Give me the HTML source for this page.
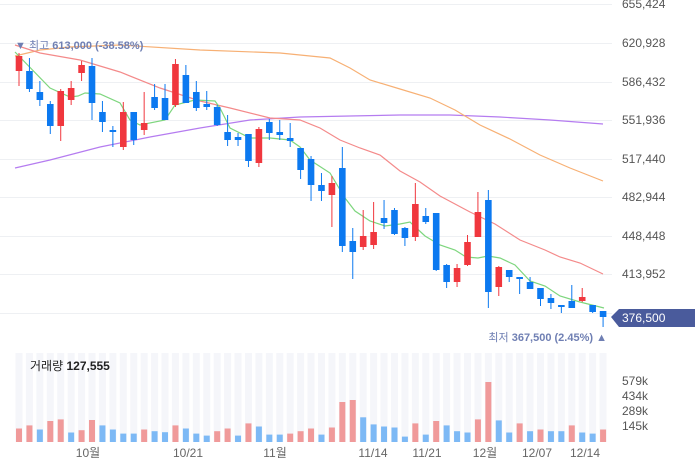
<!DOCTYPE html>
<html><head><meta charset="utf-8"><style>
html,body{margin:0;padding:0;background:#fff;}
svg{display:block;font-family:"Liberation Sans","Noto Sans CJK KR",sans-serif;}
</style></head><body>
<svg id="s" width="699" height="469" viewBox="0 0 699 469" xmlns="http://www.w3.org/2000/svg">
<g id="grid" stroke="#eef0f3" stroke-width="1"></g>
<g id="vbg"></g>
<g id="vol"></g>
<g id="ma" fill="none" stroke-width="1.2"></g>
<g id="cd"></g>
<g font-size="12" fill="#555">
<text x="622" y="8">655,424</text>
<text x="622" y="47">620,928</text>
<text x="622" y="86">586,432</text>
<text x="622" y="124">551,936</text>
<text x="622" y="163">517,440</text>
<text x="622" y="201">482,944</text>
<text x="622" y="240">448,448</text>
<text x="622" y="278">413,952</text>
</g>
<path d="M611 317 L619 309 H695 V327 H619 Z" fill="#4a5b9c"/>
<text x="622" y="322" font-size="12" fill="#fff">376,500</text>
<text x="15" y="49" font-size="11" fill="#6f7fb3">▼ 최고 <tspan font-weight="bold">613,000 (-38.58%)</tspan></text>
<text x="607" y="341" font-size="11" fill="#6f7fb3" text-anchor="end">최저 <tspan font-weight="bold">367,500 (2.45%)</tspan> ▲</text>
<text x="30" y="370" font-size="12" fill="#222">거래량 <tspan font-weight="bold">127,555</tspan></text>
<g font-size="12" fill="#555">
<text x="622" y="385">579k</text>
<text x="622" y="400">434k</text>
<text x="622" y="415">289k</text>
<text x="622" y="430">145k</text>
</g>
<g font-size="12" fill="#666" text-anchor="middle">
<text x="88" y="457">10월</text>
<text x="188" y="457">10/21</text>
<text x="275" y="457">11월</text>
<text x="373" y="457">11/14</text>
<text x="427" y="457">11/21</text>
<text x="485" y="457">12월</text>
<text x="537" y="457">12/07</text>
<text x="585" y="457">12/14</text>
</g>
</svg>
<script>
var NS="http://www.w3.org/2000/svg";
function el(p,t,a){var e=document.createElementNS(NS,t);for(var k in a)e.setAttribute(k,a[k]);document.getElementById(p).appendChild(e);return e;}
[4,43,82,120,159,197,236,274,313].forEach(function(y){el("grid","line",{x1:0,x2:612,y1:y+.5,y2:y+.5});});
var C=[[56,71,53,86,1],[71,89,58,92,0],[92,100,81,106,0],[104,126,101,134,0],[91,126,89,141,1],[88,100,81,105,1],[65,73,61,81,1],[66,103,58,120,0],[112,122,101,132,0],[130,132,126,147,0],[112,147,102,150,1],[112,140,112,145,0],[123,130,92,135,1],[97,108,84,110,0],[98,120,84,120,0],[64,105,59,107,1],[75,103,65,103,0],[92,108,81,111,0],[104,107,91,110,0],[107,125,105,126,0],[132,140,115,146,0],[137,140,133,146,0],[134,161,134,167,0],[129,163,127,167,1],[122,133,119,140,0],[132,135,120,140,0],[138,141,123,147,0],[148,170,148,179,0],[159,185,156,201,0],[185,191,173,201,0],[183,195,176,227,1],[168,246,147,252,0],[241,252,228,279,0],[236,247,210,250,1],[232,245,202,249,1],[218,223,200,229,0],[210,234,208,235,0],[228,238,227,246,0],[204,237,183,241,1],[216,222,208,224,0],[213,270,213,271,0],[265,282,264,288,0],[268,282,264,287,1],[242,265,235,266,1],[212,237,192,237,1],[200,292,190,308,0],[267,287,266,296,1],[270,277,270,282,0],[277,279,277,294,0],[282,289,277,289,0],[288,299,288,306,0],[298,303,294,309,0],[305,307,305,313,0],[301,308,285,308,0],[297,301,288,302,1],[305,312,305,313,0],[311,317,311,327,0]];
var V=[[13.5,1],[16.6,1],[12.5,0],[21,1],[22.6,1],[9.5,0],[11.8,1],[22,1],[16.6,0],[12.5,0],[8.4,0],[8.4,0],[12.5,1],[10.8,0],[9.8,0],[16.6,1],[13.5,0],[8.4,0],[6.4,0],[10.8,1],[13.5,1],[6.4,0],[18.6,1],[15.5,0],[7.4,0],[7.4,0],[8.4,1],[10.8,1],[13.5,1],[7.4,0],[14.5,1],[40,1],[42,1],[24.7,0],[17.6,0],[15.5,0],[14.5,0],[5.4,0],[18.6,1],[7.4,0],[21,1],[16.6,0],[10.8,0],[9.5,0],[22.6,1],[60,1],[21.6,0],[9.5,0],[18.6,1],[10.8,0],[12.5,1],[10.8,0],[10.8,0],[16.6,1],[9.5,0],[8.4,0],[12.5,1]];
for(var i=0;i<57;i++){var cx=19+i*10.43;
 el("vbg","rect",{x:cx-3.5,y:353,width:7,height:89,fill:"#f5f6fa"});
 var v=V[i];el("vol","rect",{x:cx-3,y:442-v[0],width:6,height:v[0],fill:v[1]?"#f09a9a":"#7db9f5"});
 var c=C[i],col=c[4]?"#f0373e":"#0c79f0";
 el("cd","line",{x1:cx,x2:cx,y1:c[2],y2:c[3],stroke:col,"stroke-width":1});
 el("cd","rect",{x:cx-3.3,y:c[0],width:6.6,height:Math.max(1.5,c[1]-c[0]),fill:col});
}
function pl(pts,col){el("ma","polyline",{points:pts,stroke:col});}
pl("15,168 50,160 100,147 150,137 200,128 250,120 300,117 350,116 400,115 450,115 500,117 550,120 603,124","#b57cf0");
pl("15,56 40,50 70,47 120,45 200,50 280,53 330,58 350,68 370,80 400,89 430,98 455,110 480,125 510,139 540,155 570,168 603,181","#f7b074");
pl("15,45 40,53 80,60 120,72 160,88 200,101 230,108 270,118 300,120 320,128 340,140 360,148 380,155 400,171 420,182 440,196 470,212 495,224 520,240 545,250 560,257 580,263 603,274","#f48a8a");
pl("15,52 50,88 70,97 78,96 85,93 100,94 120,103 130,120 140,125 165,120 175,105 195,100 215,101 220,108 230,128 250,138 270,138 290,140 300,147 310,160 330,173 345,198 355,211 370,221 385,226 400,224 410,222 425,236 440,245 455,250 466,257 478,258 488,256 500,258 515,265 530,281 545,286 560,296 580,302 604,308","#7ed67e");
</script>
</body></html>
